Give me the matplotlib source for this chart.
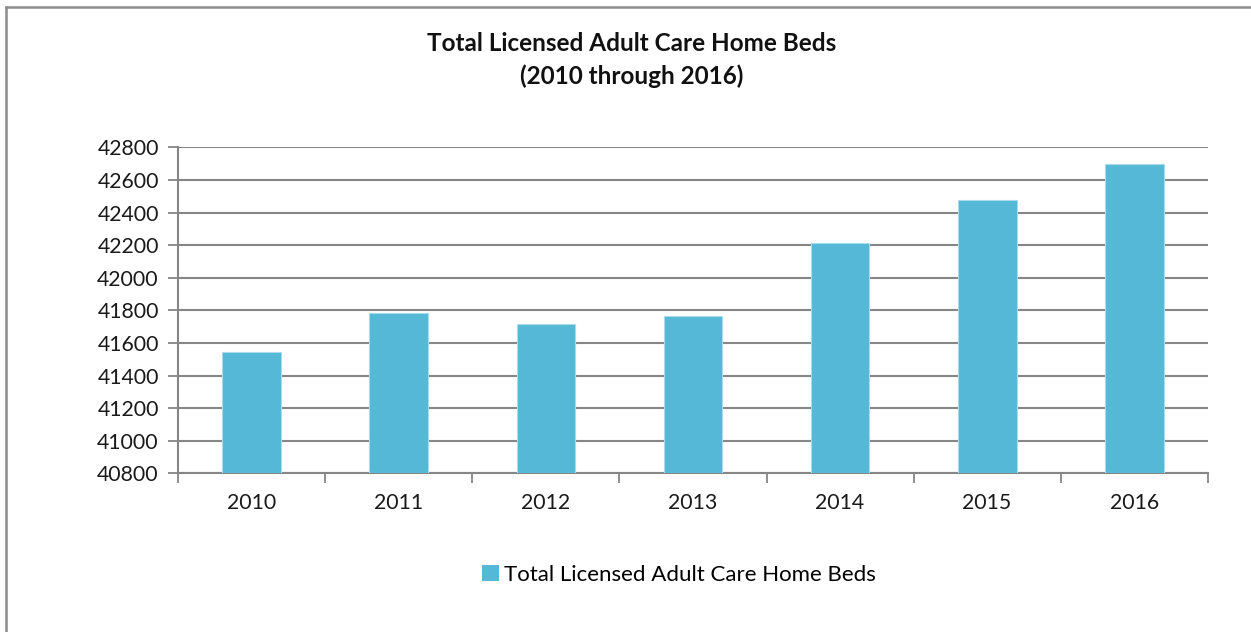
import matplotlib
matplotlib.use("Agg")
import matplotlib.pyplot as plt
from matplotlib.lines import Line2D
from matplotlib.patches import Patch

years = ["2010", "2011", "2012", "2013", "2014", "2015", "2016"]
beds = [41545, 41783, 41717, 41762, 42214, 42477, 42698]
y_ticks = [40800, 41000, 41200, 41400, 41600, 41800, 42000, 42200, 42400, 42600, 42800]
series_name = "Total Licensed Adult Care Home Beds"
title_text = "Total Licensed Adult Care Home Beds\n(2010 through 2016)"

W, H = 1251, 632
fig = plt.figure(figsize=(W / 100, H / 100), dpi=100)
plt.rcParams["font.family"] = ["Lato", "DejaVu Sans"]

bar_color = "#54B8D6"
grid_color = "#868686"

# outer frame of the chart area (left and top edges lie inside the canvas)
frame_kw = dict(transform=fig.transFigure, color="#8c8c8c", linewidth=1.8)
fig.add_artist(Line2D([5.5 / W, 5.5 / W], [0, 1 - 6.5 / H], **frame_kw))
fig.add_artist(Line2D([5.5 / W, 1], [1 - 6.5 / H, 1 - 6.5 / H], **frame_kw))

left, right = 178.3 / W, 1207.7 / W
bottom, top = (H - 473.3) / H, (H - 147.3) / H
ax = fig.add_axes([left, bottom, right - left, top - bottom])

x = list(range(len(years)))
ax.bar(x, [b - y_ticks[0] for b in beds], bottom=y_ticks[0], width=0.4,
       color=bar_color, edgecolor="#a6dcec", linewidth=0.8, zorder=3)

ax.set_xlim(-0.5, len(years) - 0.5)
ax.set_ylim(y_ticks[0], y_ticks[-1])
ax.set_yticks(y_ticks)
ax.set_yticklabels([str(v) for v in y_ticks], fontsize=15.3, color="#1a1a1a")
ax.set_xticks(x)
ax.set_xticklabels(years, fontsize=15.3, color="#1a1a1a")
ax.tick_params(axis="x", length=0, pad=14)
ax.tick_params(axis="y", length=7, width=1.3, color=grid_color, pad=7)
ax.set_xticks([i - 0.5 for i in range(len(years) + 1)], minor=True)
ax.tick_params(axis="x", which="minor", length=7, width=1.3, color=grid_color)

ax.yaxis.grid(True, color=grid_color, linewidth=1.5, zorder=0)
ax.set_axisbelow(True)
for side in ["top", "right"]:
    ax.spines[side].set_visible(False)
ax.spines["left"].set_color(grid_color)
ax.spines["left"].set_linewidth(1.5)
ax.spines["bottom"].set_color(grid_color)
ax.spines["bottom"].set_linewidth(1.5)

fig.text(632 / W, 1 - 60 / H, title_text, ha="center", va="center",
         fontsize=17.5, fontweight="bold", linespacing=1.5, color="#111111")

handle = Patch(facecolor=bar_color, edgecolor="none")
fig.legend([handle], [series_name], loc="center", bbox_to_anchor=(679 / W, 1 - 575 / H),
           frameon=False, fontsize=16, handlelength=0.75, handleheight=0.75,
           handletextpad=0.25, borderpad=0)

fig.savefig("out.png", dpi=100, facecolor="white")
